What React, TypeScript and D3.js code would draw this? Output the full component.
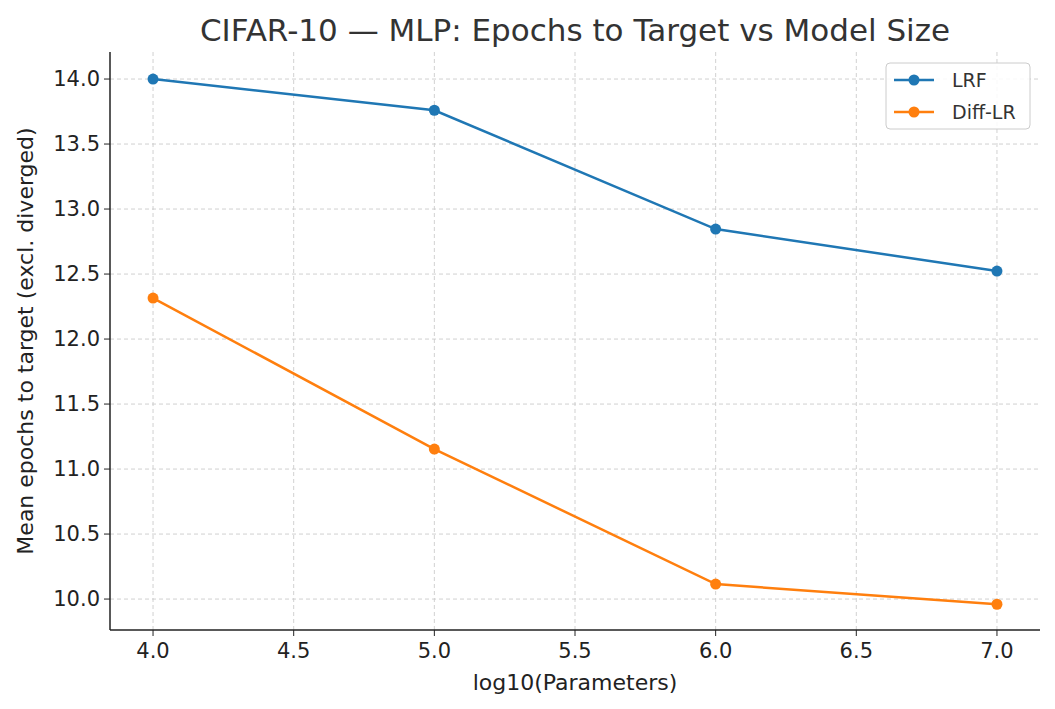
import React from "react";
import * as d3 from "d3";

const xs = [4, 5, 6, 7];
const lrf = [14.0, 13.76, 12.846, 12.523];
const diff = [12.315, 11.154, 10.115, 9.96];
const xTicks = [4.0, 4.5, 5.0, 5.5, 6.0, 6.5, 7.0];
const yTicks = [10.0, 10.5, 11.0, 11.5, 12.0, 12.5, 13.0, 13.5, 14.0];
const series = [
  { name: "LRF", values: lrf, color: "#1f77b4" },
  { name: "Diff-LR", values: diff, color: "#ff7f0e" },
];

export default function App() {
  const L = 110, R = 1040, T = 52, B = 630;
  const x = d3.scaleLinear().domain([3.847, 7.153]).range([L, R]);
  const y = d3.scaleLinear().domain([9.762, 14.208]).range([B, T]);
  const line = d3.line<number>().x((_, i) => x(xs[i])).y((d) => y(d));
  const font = "DejaVu Sans";
  return (
    <svg width={1055} height={709} style={{ position: "absolute", left: 0, top: 0, fontFamily: font }}>
      <rect width={1055} height={709} fill="#fff" />
      {xTicks.map((t) => (
        <g key={"x" + t}>
          <line x1={x(t)} x2={x(t)} y1={T} y2={B} stroke="#ccc" strokeDasharray="4,3" strokeWidth={0.9} />
          <line x1={x(t)} x2={x(t)} y1={B} y2={B + 6} stroke="#222" />
          <text x={x(t)} y={B + 28} textAnchor="middle" fontSize={21} fill="#222">{t.toFixed(1)}</text>
        </g>
      ))}
      {yTicks.map((t) => (
        <g key={"y" + t}>
          <line x1={L} x2={R} y1={y(t)} y2={y(t)} stroke="#ccc" strokeDasharray="4,3" strokeWidth={0.9} />
          <line x1={L - 6} x2={L} y1={y(t)} y2={y(t)} stroke="#222" />
          <text x={L - 10} y={y(t) + 7} textAnchor="end" fontSize={21} fill="#222">{t.toFixed(1)}</text>
        </g>
      ))}
      <line x1={L} x2={R} y1={B} y2={B} stroke="#222" strokeWidth={1.5} />
      <line x1={L} x2={L} y1={T} y2={B} stroke="#222" strokeWidth={1.5} />
      {series.map((s) => (
        <g key={s.name}>
          <path d={line(s.values) || ""} fill="none" stroke={s.color} strokeWidth={2.5} />
          {s.values.map((v, i) => (
            <circle key={i} cx={x(xs[i])} cy={y(v)} r={5.5} fill={s.color} />
          ))}
        </g>
      ))}
      <text x={575} y={41} textAnchor="middle" fontSize={31} fill="#333">CIFAR-10 — MLP: Epochs to Target vs Model Size</text>
      <text x={575} y={690} textAnchor="middle" fontSize={22} fill="#222">log10(Parameters)</text>
      <text transform={`translate(33,${(T + B) / 2}) rotate(-90)`} textAnchor="middle" fontSize={22} fill="#222">Mean epochs to target (excl. diverged)</text>
      <g>
        <rect x={886} y={63} width={144} height={66} rx={4} fill="#fff" fillOpacity={0.85} stroke="#ccc" />
        {series.map((s, i) => (
          <g key={s.name}>
            <line x1={894} x2={934} y1={80 + i * 32} y2={80 + i * 32} stroke={s.color} strokeWidth={2.5} />
            <circle cx={914} cy={80 + i * 32} r={5.5} fill={s.color} />
            <text x={952} y={87 + i * 32} fontSize={19} fill="#333">{s.name}</text>
          </g>
        ))}
      </g>
    </svg>
  );
}
